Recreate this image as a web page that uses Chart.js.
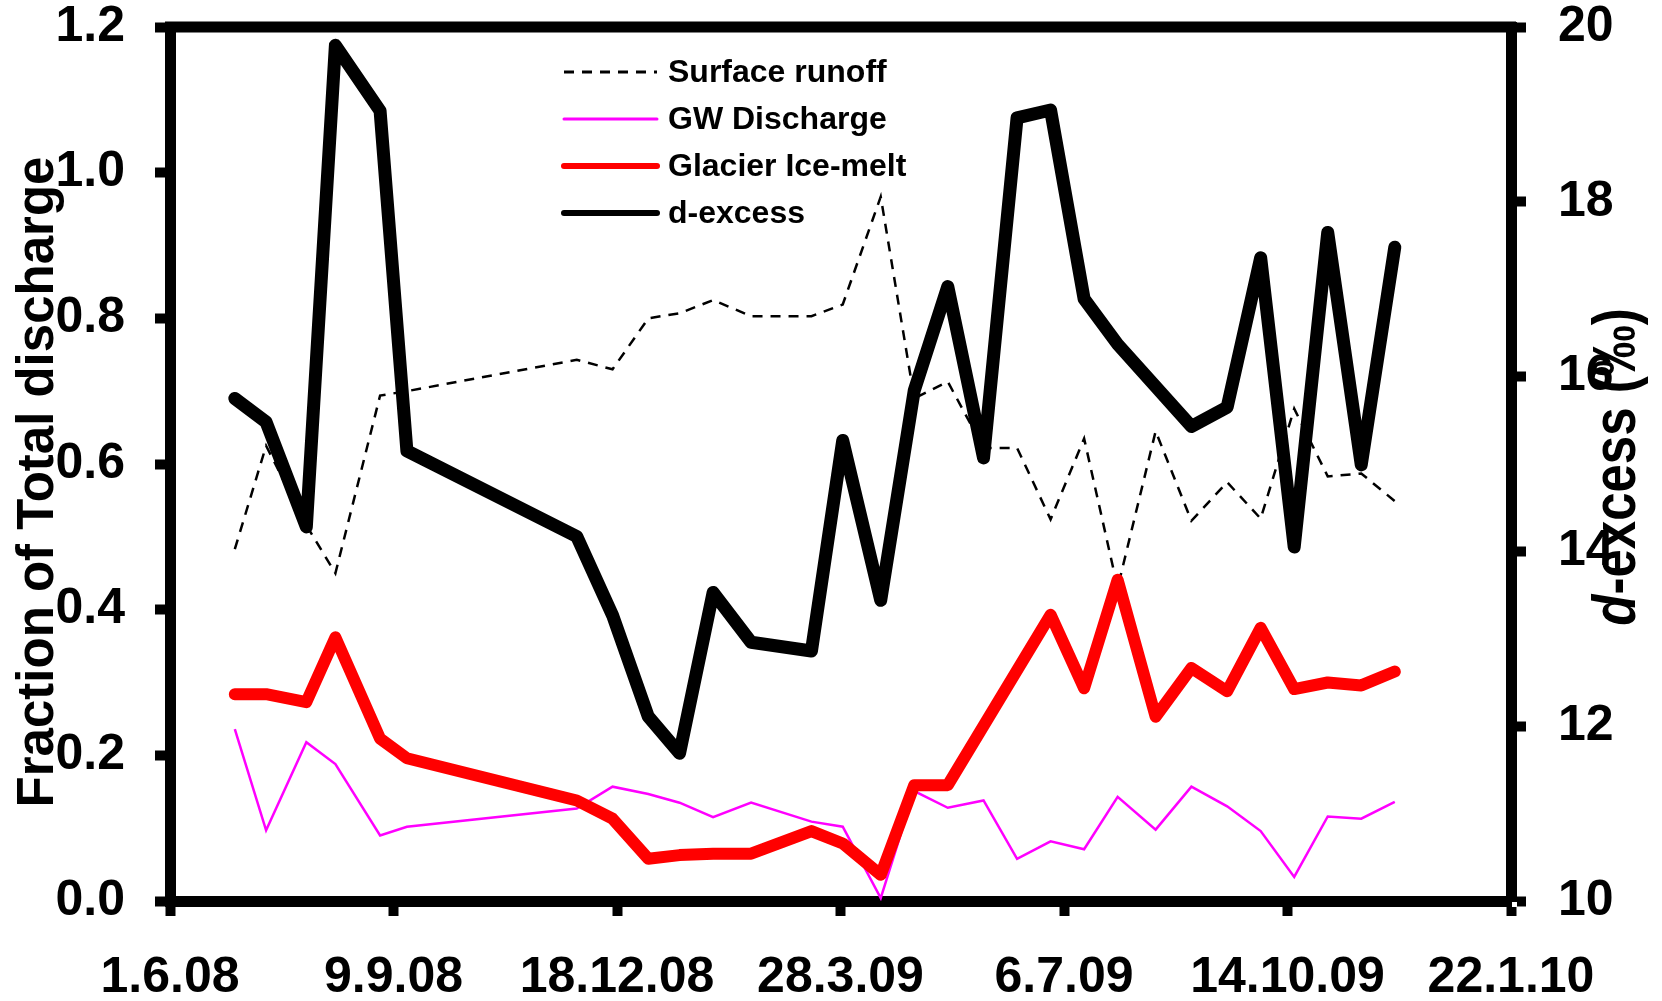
<!DOCTYPE html>
<html>
<head>
<meta charset="utf-8">
<script src="https://cdn.jsdelivr.net/npm/chart.js@4.4.1/dist/chart.umd.min.js"></script>
<style>
    html, body { margin: 0; padding: 0; background: #fff; }
    #chart { display: block; }
</style>
</head>
<body>
<canvas id="chart" width="1662" height="1001"></canvas>
<script>
"use strict";
// sampling dates, in days after 1.6.08
const sampleDays = [29, 43, 61, 74, 94, 106, 182, 198, 214, 228, 243, 260, 287, 301, 318,
    333, 348, 364, 379, 394, 409, 424, 441, 457, 473, 488, 503, 518, 533, 548];
// fractions of total discharge (left axis)
const surfaceRunoff = [0.483, 0.625, 0.516, 0.45, 0.694, 0.70, 0.743, 0.73, 0.80, 0.807, 0.825, 0.803, 0.803, 0.819, 0.967,
    0.69, 0.713, 0.622, 0.622, 0.524, 0.635, 0.43, 0.645, 0.522, 0.575, 0.525, 0.676, 0.583, 0.587, 0.549];
const gwDischarge = [0.236, 0.097, 0.218, 0.188, 0.09, 0.102, 0.127, 0.157, 0.147, 0.135, 0.115, 0.135, 0.109, 0.102, 0.004,
    0.151, 0.128, 0.138, 0.058, 0.082, 0.071, 0.143, 0.098, 0.157, 0.13, 0.096, 0.033, 0.116, 0.113, 0.136];
const glacierIceMelt = [0.284, 0.284, 0.273, 0.362, 0.223, 0.196, 0.138, 0.113, 0.058, 0.063, 0.065, 0.065, 0.096, 0.079, 0.036,
    0.159, 0.159, null, null, 0.393, 0.292, 0.441, 0.253, 0.32, 0.288, 0.375, 0.291, 0.30, 0.296, 0.315];
// d-excess in permil (right axis)
const dExcess = [15.75, 15.48, 14.28, 19.79, 19.04, 15.15, 14.17, 13.27, 12.11, 11.69, 13.53, 12.96, 12.86, 15.27, 13.44,
    15.84, 17.03, 15.07, 18.96, 19.05, 16.89, 16.37, null, 15.43, 15.65, 17.36, 14.05, 17.65, 14.99, 17.48];
// x tick labels, one every 100 days
const dateLabels = ["1.6.08", "9.9.08", "18.12.08", "28.3.09", "6.7.09", "14.10.09", "22.1.10"];
const seriesNames = ["Surface runoff", "GW Discharge", "Glacier Ice-melt", "d-excess"];

const FONT = "'Liberation Sans', Arial, sans-serif";

function toPoints(values) {
    return sampleDays.map((day, i) => ({ x: day, y: values[i] }));
}

// legend, top frame line and the two axis titles
const decorations = {
    id: "decorations",
    afterDraw(chart) {
        const ctx = chart.ctx;
        const area = chart.chartArea;
        ctx.save();
        ctx.strokeStyle = "#000";
        ctx.lineWidth = 11;
        ctx.beginPath();
        ctx.moveTo(area.left - 5, area.top);
        ctx.lineTo(area.right + 5, area.top);
        ctx.stroke();

        // legend
        const styles = [
            { color: "#000", width: 3, dash: [10, 8] },
            { color: "#ff00ff", width: 3, dash: [] },
            { color: "#ff0000", width: 6, dash: [] },
            { color: "#000", width: 6, dash: [] }
        ];
        const rows = [72, 119, 166, 213];
        ctx.font = "bold 32px " + FONT;
        ctx.textBaseline = "middle";
        ctx.textAlign = "left";
        ctx.fillStyle = "#000";
        seriesNames.forEach((name, i) => {
            ctx.strokeStyle = styles[i].color;
            ctx.lineWidth = styles[i].width;
            ctx.setLineDash(styles[i].dash);
            ctx.lineCap = styles[i].dash.length ? "butt" : "round";
            ctx.beginPath();
            ctx.moveTo(564, rows[i]);
            ctx.lineTo(657, rows[i]);
            ctx.stroke();
            ctx.fillText(name, 668, rows[i] + 1);
        });
        ctx.setLineDash([]);

        // left title
        ctx.save();
        ctx.font = "bold 51px " + FONT;
        ctx.textAlign = "center";
        ctx.textBaseline = "alphabetic";
        ctx.translate(53, 482);
        ctx.rotate(-Math.PI / 2);
        ctx.fillText("Fraction of Total discharge", 0, 0);
        ctx.restore();

        // right title, italic d
        ctx.save();
        ctx.textAlign = "left";
        ctx.textBaseline = "alphabetic";
        ctx.translate(1635, 467);
        ctx.rotate(-Math.PI / 2);
        ctx.scale(1, 1.2);
        const italic = "italic bold 51px " + FONT;
        const bold = "bold 51px " + FONT;
        ctx.font = italic;
        const dW = ctx.measureText("d").width;
        ctx.font = bold;
        const rest = "-excess (\u2030)";
        const rW = ctx.measureText(rest).width;
        const start = -(dW + rW) / 2;
        ctx.font = italic;
        ctx.fillText("d", start, 0);
        ctx.font = bold;
        ctx.fillText(rest, start + dW, 0);
        ctx.restore();
        ctx.restore();
    }
};

function axisStyle(extra) {
    return Object.assign({
        grid: { drawOnChartArea: false, drawTicks: true, tickLength: 15, tickWidth: 10, tickColor: "#000" },
        border: { display: true, width: 11, color: "#000" }
    }, extra);
}

// fixed axis sizes, no extra room for the end labels
function fixWidth(w) {
    return (scale) => {
        scale.width = w;
        scale.paddingTop = 0;
        scale.paddingBottom = 0;
    };
}

const chart = new Chart(document.getElementById("chart"), {
    type: "line",
    data: {
        datasets: [
            {
                label: seriesNames[0],
                data: toPoints(surfaceRunoff),
                borderColor: "#000",
                borderWidth: 2.5,
                borderDash: [10, 8],
                yAxisID: "y",
                order: 3
            },
            {
                label: seriesNames[1],
                data: toPoints(gwDischarge),
                borderColor: "#ff00ff",
                borderWidth: 2.5,
                yAxisID: "y",
                order: 4
            },
            {
                label: seriesNames[2],
                data: toPoints(glacierIceMelt),
                borderColor: "#ff0000",
                borderWidth: 12,
                borderCapStyle: "round",
                borderJoinStyle: "round",
                yAxisID: "y",
                order: 2
            },
            {
                label: seriesNames[3],
                data: toPoints(dExcess),
                borderColor: "#000",
                borderWidth: 13,
                borderCapStyle: "round",
                borderJoinStyle: "round",
                yAxisID: "y1",
                order: 1
            }
        ]
    },
    options: {
        responsive: false,
        animation: false,
        devicePixelRatio: 1,
        spanGaps: true,
        layout: { padding: { top: 27, left: 0, right: 0, bottom: 0 } },
        elements: { point: { radius: 0 }, line: { tension: 0 } },
        plugins: { legend: { display: false }, tooltip: { enabled: false } },
        scales: {
            x: axisStyle({
                type: "linear",
                position: "bottom",
                min: 0,
                max: 600,
                afterFit: (scale) => {
                    scale.height = 100;
                    scale.paddingLeft = 0;
                    scale.paddingRight = 0;
                },
                ticks: {
                    stepSize: 100,
                    autoSkip: false,
                    maxRotation: 0,
                    padding: 32,
                    color: "#000",
                    font: { family: FONT, size: 50, weight: "bold" },
                    callback: (v) => dateLabels[Math.round(v / 100)]
                }
            }),
            y: axisStyle({
                position: "left",
                min: 0,
                max: 1.2,
                afterFit: fixWidth(170),
                ticks: {
                    stepSize: 0.2,
                    padding: 30,
                    color: "#000",
                    font: { family: FONT, size: 50, weight: "bold" },
                    callback: (v) => v.toFixed(1)
                }
            }),
            y1: axisStyle({
                position: "right",
                min: 10,
                max: 20,
                afterFit: fixWidth(151),
                ticks: {
                    stepSize: 2,
                    padding: 32,
                    color: "#000",
                    font: { family: FONT, size: 50, weight: "bold" }
                }
            })
        }
    },
    plugins: [decorations]
});
</script>
</body>
</html>
